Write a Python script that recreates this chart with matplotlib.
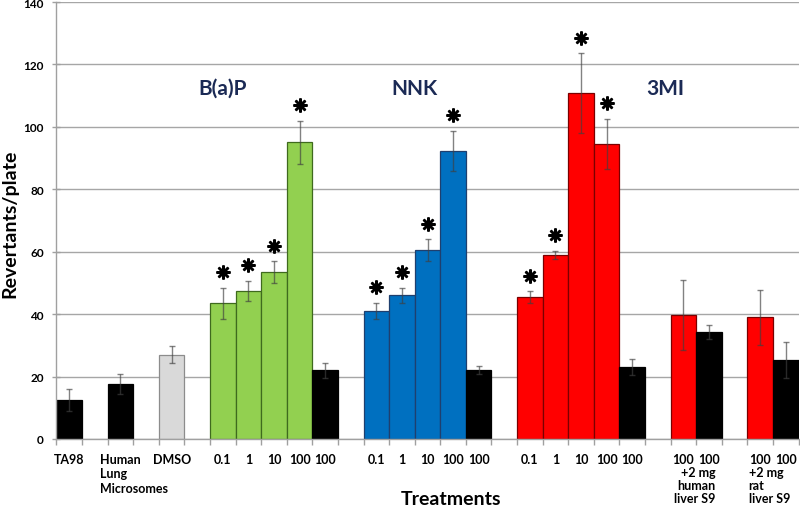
import numpy as np
import matplotlib
matplotlib.use("Agg")
import matplotlib.pyplot as plt
from matplotlib.transforms import ScaledTranslation, blended_transform_factory

plt.rcParams['font.family'] = ['Lato', 'DejaVu Sans']
plt.rcParams['font.weight'] = 'bold'

# ---------------- data ----------------
categories = ["TA98", "", "Human\nLung\nMicrosomes", "", "DMSO", "",
              "0.1", "1", "10", "100", "100", "",
              "0.1", "1", "10", "100", "100", "",
              "0.1", "1", "10", "100", "100", "",
              "100", "100", "", "100", "100"]
values = [12.5, np.nan, 17.6, np.nan, 27.0, np.nan,
          43.5, 47.4, 53.5, 95.0, 22.0, np.nan,
          41.0, 46.0, 60.5, 92.2, 22.0, np.nan,
          45.5, 59.0, 110.8, 94.5, 23.0, np.nan,
          39.8, 34.2, np.nan, 39.0, 25.3]
errors = [3.5, 0, 3.2, 0, 2.7, 0,
          4.9, 3.3, 3.4, 7.0, 2.5, 0,
          2.7, 2.5, 3.5, 6.5, 1.3, 0,
          1.8, 1.2, 12.8, 8.0, 2.5, 0,
          11.2, 2.2, 0, 8.8, 5.7]
significant = [False, False, False, False, False, False,
               True, True, True, True, False, False,
               True, True, True, True, False, False,
               True, True, True, True, False, False,
               False, False, False, False, False]
kinds = ["k", "", "k", "", "g", "",
         "G", "G", "G", "G", "k", "",
         "B", "B", "B", "B", "k", "",
         "R", "R", "R", "R", "k", "",
         "R", "k", "", "R", "k"]
group_names = ["B(a)P", "NNK", "3MI"]
s9_notes = ["+2 mg\nhuman\nliver S9", "+2 mg\nrat\nliver S9"]

fill = {"k": "#000000", "g": "#D9D9D9", "G": "#92D050", "B": "#0070C0", "R": "#FF0000", "": "none"}
edge = {"k": "#000000", "g": "#8C8C8C", "G": "#3F6A1E", "B": "#1F3F6E", "R": "#7A0000", "": "none"}

# ---------------- figure ----------------
fig = plt.figure(figsize=(8, 5.1), dpi=100)
ax = fig.add_axes([56.5 / 800, 70 / 510, (798.5 - 56.5) / 800, 437 / 510])

n = len(categories)
x = np.arange(n) + 0.5
vals = np.array(values, dtype=float)
errs = np.array(errors, dtype=float)
mask = ~np.isnan(vals)

ax.bar(x[mask], vals[mask], width=1.0,
       color=[fill[k] for k, m in zip(kinds, mask) if m],
       edgecolor=[edge[k] for k, m in zip(kinds, mask) if m],
       linewidth=0.9, zorder=2)
ax.errorbar(x[mask], vals[mask], yerr=errs[mask], fmt='none',
            ecolor=(0.25, 0.25, 0.25, 0.65), elinewidth=1.0, capsize=2.5,
            capthick=1.0, zorder=3)

sig = np.array(significant) & mask
ax.plot(x[sig], vals[sig] + errs[sig] + 5.0, linestyle='none',
        marker=(8, 2, 0), markersize=10, markeredgewidth=1.8,
        color='black', zorder=4)

ax.set_xlim(0, n)
ax.set_ylim(0, 140)
ax.set_yticks(np.arange(0, 141, 20))
ax.yaxis.grid(True, color='#A6A6A6', linewidth=1.0)
ax.set_axisbelow(True)
for s in ['top', 'right']:
    ax.spines[s].set_visible(False)
for s in ['left', 'bottom']:
    ax.spines[s].set_color('#A0A0A0')
    ax.spines[s].set_linewidth(1.0)

ax.tick_params(axis='y', direction='inout', length=6, width=1,
               color='#A0A0A0', pad=6, labelsize=8.5)
ax.set_xticks(x)
ax.set_xticklabels(categories, fontsize=9, linespacing=1.25, va='top')
ax.set_xticks(np.arange(0, n + 1), minor=True)
ax.tick_params(axis='x', which='major', length=0, pad=10)
ax.tick_params(axis='x', which='minor', length=4, width=1, color='#A0A0A0',
               direction='out')

# Human Lung Microsomes label is left-aligned near its bar
lbl = ax.get_xticklabels()[2]
lbl.set_horizontalalignment('left')
lbl.set_multialignment('left')
lbl.set_transform(lbl.get_transform() + ScaledTranslation(-20.5 / 100, 0, fig.dpi_scale_trans))

trans = blended_transform_factory(ax.transData, ax.transAxes)
ax.text(25.75, -0.062, s9_notes[0], transform=trans, ha='right', va='top',
        multialignment='right', fontsize=9, linespacing=1.1)
ax.text(27.05, -0.062, s9_notes[1], transform=trans, ha='left', va='top',
        multialignment='left', fontsize=9, linespacing=1.1)

navy = '#1B2A55'
ax.text(6.5, 112.5, group_names[0], color=navy, fontsize=15, ha='center', va='center')
ax.text(14.0, 112.5, group_names[1], color=navy, fontsize=15, ha='center', va='center')
ax.text(23.8, 112.5, group_names[2], color=navy, fontsize=15, ha='center', va='center')

fig.text(10 / 800, 1 - 224 / 510, "Revertants/plate", rotation=90, fontsize=14,
         ha='center', va='center')
fig.text(451 / 800, 1 - 500 / 510, "Treatments", fontsize=14, ha='center', va='center')

fig.savefig("out.png", dpi=100)
